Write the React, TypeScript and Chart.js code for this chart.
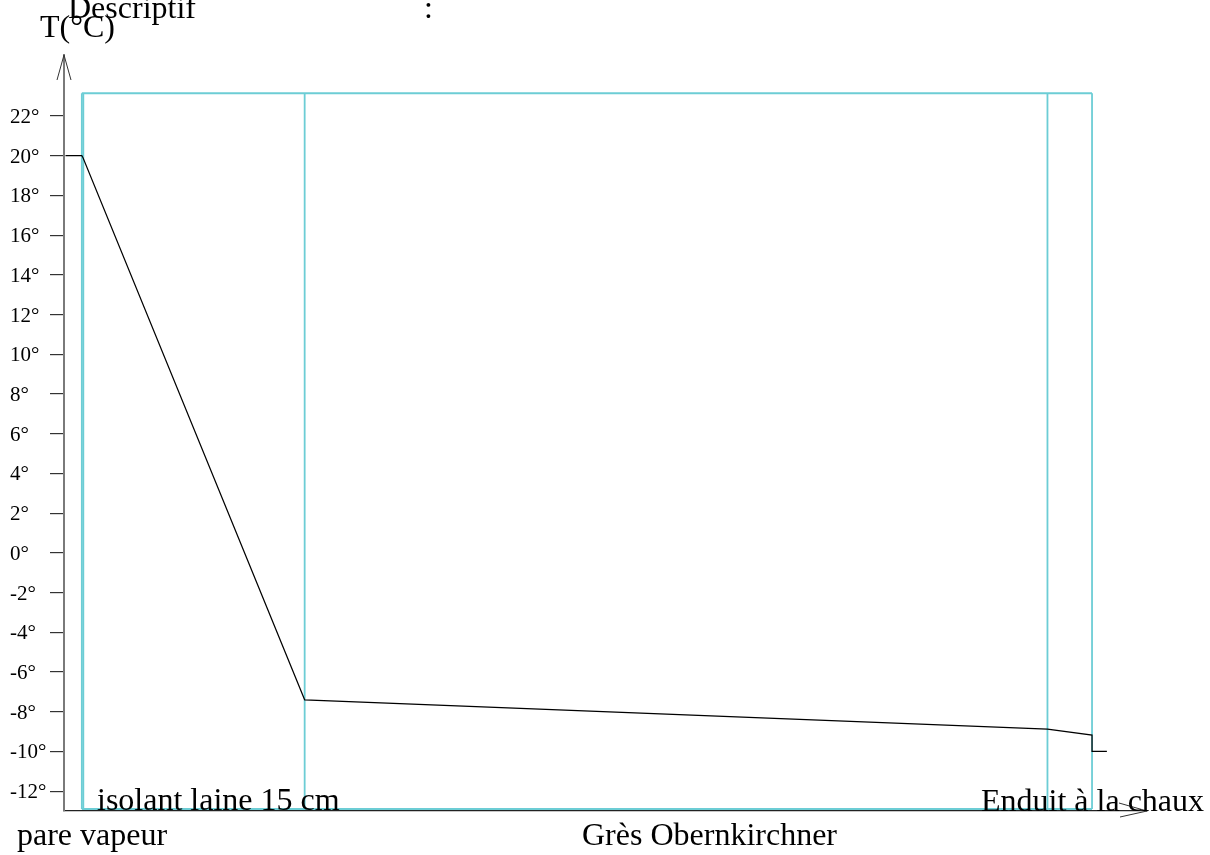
import React, { useEffect, useRef } from "react";
import { Chart, registerables } from "chart.js";

Chart.register(...registerables);

// Tick labels of the temperature axis (°C)
const yTickValues = [-12, -10, -8, -6, -4, -2, 0, 2, 4, 6, 8, 10, 12, 14, 16, 18, 20, 22];

// Temperature profile through the wall (x in cm, T in °C)
const profileX = [-1.1, 0, 0.08, 15, 65, 68, 68, 69];
const profileT = [20, 20, 19.9, -7.4, -8.88, -9.18, -10, -10];

// Layer boundaries (cm): pare vapeur, isolant laine 15 cm, grès, enduit
const layerBounds = [0, 0.1, 15, 65, 68];
const frameTop = 23.14;
const frameBottom = -12.9;

// Text labels
const titleText = "Descriptif";
const colonText = ":";
const yAxisTitle = "T(°C)";
const layerLabels = ["isolant laine 15 cm", "pare vapeur", "Grès Obernkirchner", "Enduit à la chaux"];

const FONT = "'Liberation Serif', 'Times New Roman', serif";
const CYAN = "#6ccdd5";

export default function App() {
  const ref = useRef<HTMLCanvasElement | null>(null);

  useEffect(() => {
    if (!ref.current) return;

    const datasets: any[] = [];
    datasets.push({
      data: profileX.map((x, i) => ({ x, y: profileT[i] })),
      borderColor: "#000",
      borderWidth: 1.2,
      order: 0,
    });
    // frame top & bottom
    datasets.push({
      data: [
        { x: layerBounds[0], y: frameTop },
        { x: layerBounds[layerBounds.length - 1], y: frameTop },
      ],
      borderColor: CYAN,
      borderWidth: 2,
      order: 1,
    });
    datasets.push({
      data: [
        { x: layerBounds[0], y: frameBottom },
        { x: layerBounds[layerBounds.length - 1], y: frameBottom },
      ],
      borderColor: CYAN,
      borderWidth: 2,
      order: 1,
    });
    layerBounds.forEach((b) => {
      datasets.push({
        data: [
          { x: b, y: frameBottom },
          { x: b, y: frameTop },
        ],
        borderColor: CYAN,
        borderWidth: 1.8,
        order: 1,
      });
    });
    datasets.forEach((d) => {
      d.showLine = true;
      d.pointRadius = 0;
      d.fill = false;
    });

    const decor = {
      id: "decor",
      afterDraw(chart: any) {
        const ctx = chart.ctx;
        const a = chart.chartArea;
        ctx.save();
        // arrows
        ctx.strokeStyle = "#333";
        ctx.lineWidth = 1;
        ctx.beginPath();
        ctx.moveTo(a.left - 7, a.top + 25);
        ctx.lineTo(a.left, a.top);
        ctx.lineTo(a.left + 7, a.top + 25);
        ctx.stroke();
        ctx.beginPath();
        ctx.moveTo(a.right - 27, a.bottom + 6);
        ctx.lineTo(a.right, a.bottom);
        ctx.lineTo(a.right - 28, a.bottom - 8);
        ctx.stroke();
        // texts
        ctx.fillStyle = "#000";
        ctx.textAlign = "left";
        ctx.textBaseline = "alphabetic";
        ctx.font = `32px ${FONT}`;
        ctx.fillText(titleText, 68, 18);
        ctx.fillText(colonText, 424, 18);
        ctx.fillText(yAxisTitle, 40, 37);
        ctx.fillText(layerLabels[0], 97, 810);
        ctx.fillText(layerLabels[1], 17, 845);
        ctx.fillText(layerLabels[2], 582, 845);
        ctx.fillText(layerLabels[3], 981, 811);
        ctx.restore();
      },
    };

    const chart = new Chart(ref.current, {
      type: "scatter",
      data: { datasets },
      options: {
        animation: false,
        responsive: false,
        devicePixelRatio: 1,
        layout: { padding: { left: 10, right: 63, top: 55, bottom: 44 } },
        plugins: { legend: { display: false }, tooltip: { enabled: false }, title: { display: false } },
        scales: {
          x: {
            type: "linear",
            min: -1.2,
            max: 71.7,
            ticks: { display: false },
            grid: { display: false },
            border: { display: true, color: "#222", width: 1.2 },
            afterFit: (s: any) => {
              s.height = 0;
            },
          },
          y: {
            type: "linear",
            min: -13,
            max: 25.07,
            afterBuildTicks: (s: any) => {
              s.ticks = yTickValues.map((v) => ({ value: v }));
            },
            afterFit: (s: any) => {
              s.width = 54;
            },
            ticks: {
              crossAlign: "far",
              labelOffset: 1.5,
              font: { family: FONT, size: 21 },
              color: "#000",
              callback: (v: any) => `${v}°`,
            },
            grid: { drawOnChartArea: false, drawTicks: true, tickLength: 14, color: "#333", lineWidth: 1.2 },
            border: { display: true, color: "#7a7a7a", width: 2 },
          },
        },
      } as any,
      plugins: [decor],
    });
    return () => chart.destroy();
  }, []);

  return (
    <div style={{ position: "fixed", left: 0, top: 0, width: 1210, height: 855, background: "#fff" }}>
      <canvas ref={ref} width={1210} height={855} />
    </div>
  );
}
